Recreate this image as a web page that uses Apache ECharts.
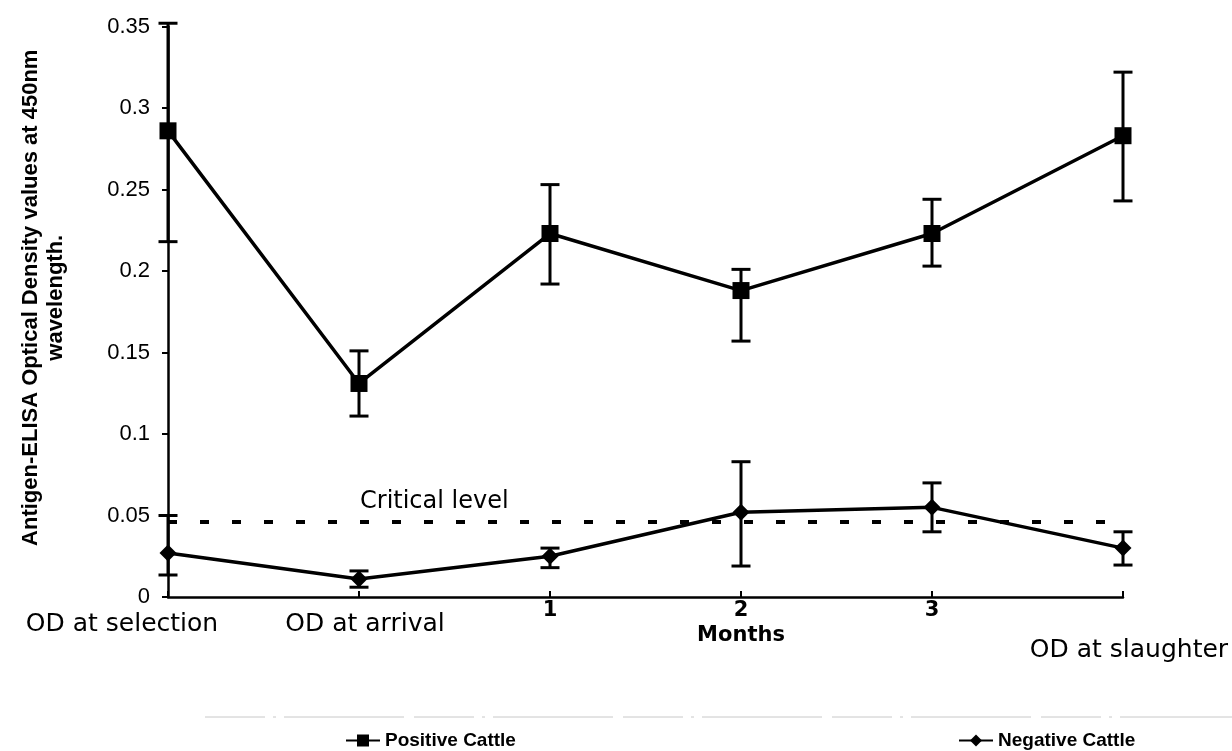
<!DOCTYPE html>
<html><head><meta charset="utf-8">
<script src="https://cdn.jsdelivr.net/npm/echarts@6/dist/echarts.min.js"></script>
<style>html,body{margin:0;padding:0;background:#fff}#c{width:1232px;height:751px}</style>
</head><body><div id="c"></div>
<script>
const categories = ['OD at selection', 'OD at arrival', '1', '2', '3', 'OD at slaughter'];
const positiveValues = [0.286, 0.131, 0.223, 0.188, 0.223, 0.283];
const positiveLow    = [0.218, 0.111, 0.192, 0.157, 0.203, 0.243];
const positiveHigh   = [0.352, 0.151, 0.253, 0.201, 0.244, 0.322];
const negativeValues = [0.027, 0.011, 0.025, 0.052, 0.055, 0.030];
const negativeLow    = [0.0135, 0.006, 0.018, 0.019, 0.040, 0.0196];
const negativeHigh   = [0.050, 0.016, 0.030, 0.083, 0.070, 0.040];
const criticalLevel = 0.046;
const yMin = 0, yMax = 0.35, yInterval = 0.05;

const FONT = "'DejaVu Sans', 'Liberation Sans', Arial, sans-serif";
const ARIAL = "'Liberation Sans', Arial, sans-serif";

function errRender(params, api) {
  const x = api.value(0);
  const lo = api.coord([x, api.value(1)]);
  const hi = api.coord([x, api.value(2)]);
  const w = 9.5;
  const style = { stroke: '#000', lineWidth: 3 };
  return {
    type: 'group',
    children: [
      { type: 'line', shape: { x1: lo[0], y1: lo[1], x2: hi[0], y2: hi[1] }, style },
      { type: 'line', shape: { x1: lo[0] - w, y1: lo[1], x2: lo[0] + w, y2: lo[1] }, style },
      { type: 'line', shape: { x1: hi[0] - w, y1: hi[1], x2: hi[0] + w, y2: hi[1] }, style }
    ]
  };
}

const chart = echarts.init(document.getElementById('c'), null, { renderer: 'canvas' });
chart.setOption({
  animation: false,
  backgroundColor: '#fff',
  textStyle: { fontFamily: FONT, color: '#000' },
  grid: { left: 168, right: 109, top: 26.5, bottom: 154, containLabel: false, outerBoundsMode: 'none' },
  legend: [
    { data: ['Positive Cattle'], left: 340, top: 726, itemWidth: 34, itemHeight: 15, itemGap: 3,
      textStyle: { fontFamily: ARIAL, fontSize: 19, fontWeight: 'bold', color: '#000' } },
    { data: ['Negative Cattle'], left: 953, top: 726, itemWidth: 34, itemHeight: 15, itemGap: 3,
      textStyle: { fontFamily: ARIAL, fontSize: 19, fontWeight: 'bold', color: '#000' } }
  ],
  graphic: [
    { type: 'line', shape: { x1: 205, y1: 717, x2: 1232, y2: 717 },
      style: { stroke: '#c8c8c8', lineWidth: 1, lineDash: [60, 8, 3, 8, 120, 10] }, silent: true }
  ],
  xAxis: {
    type: 'category',
    data: categories,
    boundaryGap: false,
    axisLine: { lineStyle: { color: '#000', width: 2.5 } },
    axisTick: { show: true, inside: true, length: 6, lineStyle: { color: '#000', width: 2 } },
    splitLine: { show: false },
    axisLabel: {
      interval: 0, showMinLabel: true, showMaxLabel: true, margin: 2,
      color: '#000', fontFamily: FONT, fontSize: 25,
      formatter: function (v, i) {
        if (i === 0) return '{sel|' + v + '}';
        if (i === 1) return '{arr|' + v + '}';
        if (i === 3) return '{num|' + v + '}\n{mon|Months}';
        if (i === 5) return '{sla|' + v + '}';
        return '{num|' + v + '}';
      },
      rich: {
        sel: { fontSize: 25, fontFamily: FONT, color: '#000', lineHeight: 28, padding: [22, 92, 0, 0] },
        arr: { fontSize: 25, fontFamily: FONT, color: '#000', lineHeight: 28, padding: [23, 0, 0, 12] },
        num: { fontSize: 21, fontWeight: 'bold', fontFamily: FONT, color: '#000', lineHeight: 24 },
        mon: { fontSize: 21, fontWeight: 'bold', fontFamily: FONT, color: '#000', lineHeight: 25 },
        sla: { fontSize: 25, fontFamily: FONT, color: '#000', lineHeight: 28, padding: [74, 0, 0, 12] }
      }
    }
  },
  yAxis: {
    type: 'value',
    min: yMin, max: yMax, interval: yInterval,
    name: 'Antigen-ELISA Optical Density values at 450nm\nwavelength.',
    nameLocation: 'middle', nameGap: 100, nameRotate: 90,
    nameTextStyle: { fontFamily: ARIAL, fontSize: 22, fontWeight: 'bold', color: '#000', lineHeight: 25, padding: [0, 0, 0, 28] },
    axisLine: { show: true, lineStyle: { color: '#000', width: 2.5 } },
    axisTick: { show: true, length: 6, lineStyle: { color: '#000', width: 2 } },
    splitLine: { show: false },
    axisLabel: { color: '#000', fontFamily: ARIAL, fontSize: 22, margin: 18,
      formatter: function (v) { return v === 0 ? '0' : String(+v.toFixed(2)); } }
  },
  series: [
    {
      name: 'Positive Cattle', type: 'line', data: positiveValues,
      symbol: 'rect', symbolSize: 17, showSymbol: true,
      lineStyle: { color: '#000', width: 3.5 }, itemStyle: { color: '#000' },
      z: 5,
      markLine: {
        silent: true, symbol: 'none', precision: 4,
        lineStyle: { color: '#000', width: 4, type: [9, 23] },
        label: { show: true, position: 'insideStartTop', formatter: 'Critical level',
          fontFamily: FONT, fontSize: 24, color: '#000', padding: [0, 0, 0, 184], distance: 8 },
        data: [{ yAxis: criticalLevel }]
      }
    },
    {
      name: 'Negative Cattle', type: 'line', data: negativeValues,
      symbol: 'diamond', symbolSize: 17, showSymbol: true,
      lineStyle: { color: '#000', width: 3.5 }, itemStyle: { color: '#000' },
      z: 5
    },
    {
      name: 'posErr', type: 'custom', renderItem: errRender, clip: false, z: 4,
      encode: { x: 0, y: [1, 2] },
      data: categories.map((c, i) => [i, positiveLow[i], positiveHigh[i]])
    },
    {
      name: 'negErr', type: 'custom', renderItem: errRender, clip: false, z: 4,
      encode: { x: 0, y: [1, 2] },
      data: categories.map((c, i) => [i, negativeLow[i], negativeHigh[i]])
    }
  ]
});
</script>
</body></html>
